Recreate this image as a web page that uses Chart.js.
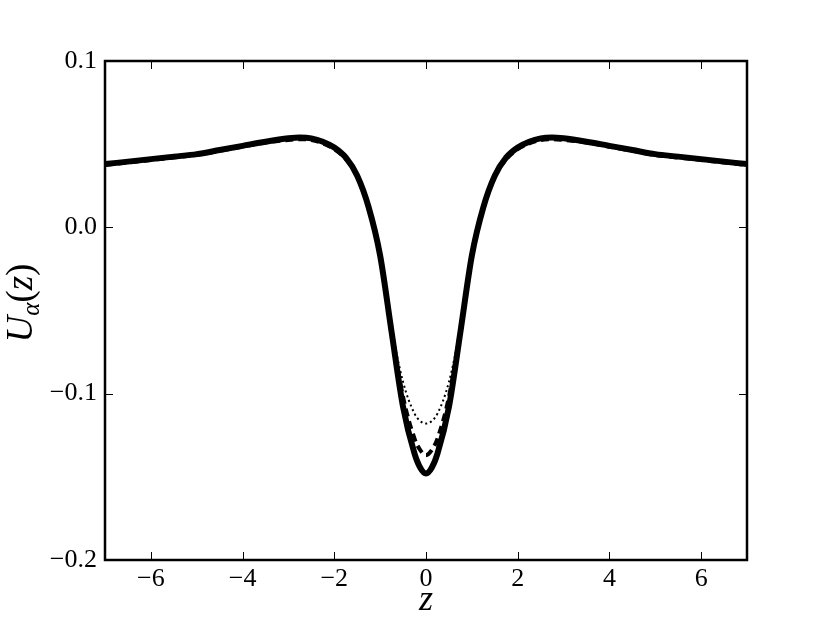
<!DOCTYPE html>
<html>
<head>
<meta charset="utf-8">
<script src="https://cdn.jsdelivr.net/npm/chart.js@4.4.1/dist/chart.umd.min.js"></script>
<style>
  html, body { margin: 0; padding: 0; background: #fff; }
  #wrap { width: 830px; height: 623px; position: relative; }
</style>
</head>
<body>
<div id="wrap"><canvas id="chart"></canvas></div>
<script>
const zValues = [-7, -6.5, -6, -5.5, -5, -4.5, -4, -3.5, -3, -2.75, -2.5, -2.25, -2, -1.75, -1.5, -1.25, -1, -0.75, -0.5, -0.25, -0.125,
  0, 0.125, 0.25, 0.5, 0.75, 1, 1.25, 1.5, 1.75, 2, 2.25, 2.5, 2.75, 3, 3.5, 4, 4.5, 5, 5.5, 6, 6.5, 7];

const solidU = [0.038, 0.0395, 0.041, 0.0425, 0.044, 0.0465, 0.049, 0.0515, 0.0535, 0.054, 0.0535, 0.0515, 0.048, 0.042, 0.031, 0.012, -0.017, -0.063, -0.108, -0.136, -0.1445,
  -0.148, -0.1445, -0.136, -0.108, -0.063, -0.017, 0.012, 0.031, 0.042, 0.048, 0.0515, 0.0535, 0.054, 0.0535, 0.0515, 0.049, 0.0465, 0.044, 0.0425, 0.041, 0.0395, 0.038];

const dashedU = [0.0375, 0.039, 0.0405, 0.042, 0.0435, 0.046, 0.0485, 0.051, 0.0525, 0.053, 0.0525, 0.0505, 0.047, 0.041, 0.031, 0.012, -0.017, -0.062, -0.102, -0.127, -0.134,
  -0.137, -0.134, -0.127, -0.102, -0.062, -0.017, 0.012, 0.031, 0.041, 0.047, 0.0505, 0.0525, 0.053, 0.0525, 0.051, 0.0485, 0.046, 0.0435, 0.042, 0.0405, 0.039, 0.0375];

const dottedU = [0.0375, 0.039, 0.0405, 0.042, 0.0435, 0.046, 0.0485, 0.051, 0.053, 0.0535, 0.053, 0.051, 0.0475, 0.0415, 0.0315, 0.013, -0.016, -0.060, -0.093, -0.112, -0.1165,
  -0.118, -0.1165, -0.112, -0.093, -0.060, -0.016, 0.013, 0.0315, 0.0415, 0.0475, 0.051, 0.053, 0.0535, 0.053, 0.051, 0.0485, 0.046, 0.0435, 0.042, 0.0405, 0.039, 0.0375];

const xTicks = [-6, -4, -2, 0, 2, 4, 6];
const yTicks = [-0.2, -0.1, 0.0, 0.1];

const tickFont = { family: "'Liberation Serif', 'DejaVu Serif', serif", size: 26 };

function toPoints(ys) {
  return zValues.map((z, i) => ({ x: z, y: ys[i] }));
}

function formatMinus(text) {
  return text.replace("-", "\u2212");
}

// frame, inward ticks on all four sides and the axis labels
const framePlugin = {
  id: "frame",
  afterDraw(chart) {
    const { ctx, chartArea: a, scales } = chart;
    ctx.save();
    ctx.strokeStyle = "#000";
    ctx.lineWidth = 1;
    const len = 8;
    xTicks.forEach((v) => {
      const px = Math.round(scales.x.getPixelForValue(v)) + 0.5;
      ctx.beginPath();
      ctx.moveTo(px, a.bottom); ctx.lineTo(px, a.bottom - len);
      ctx.moveTo(px, a.top); ctx.lineTo(px, a.top + len);
      ctx.stroke();
    });
    yTicks.forEach((v) => {
      const py = Math.round(scales.y.getPixelForValue(v)) + 0.5;
      ctx.beginPath();
      ctx.moveTo(a.left, py); ctx.lineTo(a.left + len, py);
      ctx.moveTo(a.right, py); ctx.lineTo(a.right - len, py);
      ctx.stroke();
    });
    ctx.lineWidth = 2.5;
    ctx.strokeRect(a.left, a.top, a.right - a.left, a.bottom - a.top);

    ctx.fillStyle = "#000";
    ctx.textAlign = "center";
    ctx.textBaseline = "alphabetic";
    ctx.font = "italic 36px 'Liberation Serif', 'DejaVu Serif', serif";
    ctx.fillText("z", (a.left + a.right) / 2, 610);

    ctx.translate(32, 303);
    ctx.rotate(-Math.PI / 2);
    ctx.textAlign = "left";
    const big = "italic 37px 'Liberation Serif', 'DejaVu Serif', serif";
    const small = "italic 25px 'Liberation Serif', 'DejaVu Serif', serif";
    const upright = "37px 'Liberation Serif', 'DejaVu Serif', serif";
    const parts = [["U", big, 0], ["\u03b1", small, 7], ["(", upright, 0], ["z", big, 0], [")", upright, 0]];
    let total = 0;
    parts.forEach(([t, f]) => { ctx.font = f; total += ctx.measureText(t).width; });
    let cx = -total / 2;
    parts.forEach(([t, f, dy]) => {
      ctx.font = f;
      ctx.fillText(t, cx, dy);
      cx += ctx.measureText(t).width;
    });
    ctx.restore();
  },
};

new Chart(document.getElementById("chart"), {
  type: "line",
  data: {
    datasets: [
      {
        label: "solid",
        data: toPoints(solidU),
        borderColor: "#000",
        borderWidth: 6,
        pointRadius: 0,
        cubicInterpolationMode: "monotone",
      },
      {
        label: "dashed",
        data: toPoints(dashedU),
        borderColor: "#000",
        borderWidth: 4,
        borderDash: [8, 5],
        pointRadius: 0,
        cubicInterpolationMode: "monotone",
      },
      {
        label: "dotted",
        data: toPoints(dottedU),
        borderColor: "#000",
        borderWidth: 2,
        borderDash: [2, 3],
        pointRadius: 0,
        cubicInterpolationMode: "monotone",
      },
    ],
  },
  options: {
    responsive: true,
    maintainAspectRatio: false,
    animation: false,
    layout: { padding: { top: 61, right: 83, left: 0, bottom: 0 } },
    plugins: { legend: { display: false }, tooltip: { enabled: false } },
    scales: {
      x: {
        type: "linear",
        min: -7,
        max: 7,
        afterFit(scale) { scale.height = 63; },
        afterBuildTicks(scale) { scale.ticks = xTicks.map((v) => ({ value: v })); },
        grid: { display: false, drawTicks: false },
        border: { display: false },
        ticks: {
          color: "#000",
          font: tickFont,
          padding: 4,
          maxRotation: 0,
          callback: (v) => formatMinus(String(v)),
        },
      },
      y: {
        type: "linear",
        min: -0.2,
        max: 0.1,
        afterFit(scale) { scale.width = 105; },
        afterBuildTicks(scale) { scale.ticks = yTicks.map((v) => ({ value: v })); },
        grid: { display: false, drawTicks: false },
        border: { display: false },
        ticks: {
          color: "#000",
          font: tickFont,
          padding: 8,
          callback: (v) => formatMinus(Number(v).toFixed(1)),
        },
      },
    },
  },
  plugins: [framePlugin],
});
</script>
</body>
</html>
